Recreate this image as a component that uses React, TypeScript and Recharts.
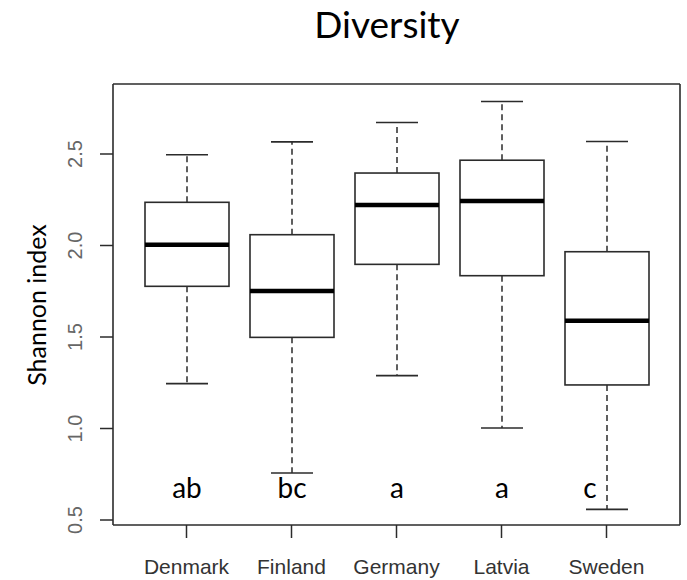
import React from 'react'
import { ComposedChart, Bar, XAxis, YAxis } from 'recharts'

const countries = ['Denmark', 'Finland', 'Germany', 'Latvia', 'Sweden']
const whiskerLow = [1.245, 0.757, 1.289, 1.003, 0.558]
const quartile1 = [1.777, 1.498, 1.897, 1.835, 1.238]
const medians = [2.004, 1.751, 2.221, 2.243, 1.589]
const quartile3 = [2.236, 2.059, 2.396, 2.466, 1.966]
const whiskerHigh = [2.496, 2.566, 2.672, 2.787, 2.568]
const groupLetters = ['ab', 'bc', 'a', 'a', 'c']

const yTicks = [0.5, 1.0, 1.5, 2.0, 2.5]
const Y_MIN = 0.4727
const Y_MAX = 2.8825
const LETTER_Y = 0.62

// small nudge for letters that sit off-centre in the original
const letterDx: Record<string, number> = { Sweden: -17 }

const data = countries.map((name, i) => ({
  name,
  lo: whiskerLow[i],
  q1: quartile1[i],
  med: medians[i],
  q3: quartile3[i],
  hi: whiskerHigh[i],
  letter: groupLetters[i],
}))

const INK = '#2b2b2b'
const LABEL_FONT = 'Lato, "Noto Sans", sans-serif'
const AXIS_FONT = '"Liberation Sans", Arial, sans-serif'
const frameLine = { stroke: INK, strokeWidth: 1.6 }

function BoxShape(props: any) {
  const { x, y, width, height, payload } = props
  const { lo, q1, med, q3, hi, letter, name } = payload
  const k = height / (hi - lo)
  const py = (v: number) => y + (hi - v) * k
  const cx = x + width / 2
  const cap = width / 4
  return (
    <g>
      <line x1={cx} x2={cx} y1={py(q3)} y2={py(hi)} stroke={INK} strokeWidth={1.5} strokeDasharray="6 4" />
      <line x1={cx} x2={cx} y1={py(q1)} y2={py(lo)} stroke={INK} strokeWidth={1.5} strokeDasharray="6 4" />
      <line x1={cx - cap} x2={cx + cap} y1={py(hi)} y2={py(hi)} stroke={INK} strokeWidth={1.6} />
      <line x1={cx - cap} x2={cx + cap} y1={py(lo)} y2={py(lo)} stroke={INK} strokeWidth={1.6} />
      <rect x={x} y={py(q3)} width={width} height={py(q1) - py(q3)} fill="#fff" stroke={INK} strokeWidth={1.6} />
      <line x1={x} x2={x + width} y1={py(med)} y2={py(med)} stroke="#000" strokeWidth={4.5} />
      <text
        x={cx + (letterDx[name] ?? 0)}
        y={py(LETTER_Y)}
        textAnchor="middle"
        fontFamily={LABEL_FONT}
        fontSize={28}
        fill="#000"
      >
        {letter}
      </text>
    </g>
  )
}

const YTick = (props: any) => {
  const { y, payload } = props
  return (
    <text
      x={82}
      y={y}
      transform={`rotate(-90, 82, ${y})`}
      textAnchor="middle"
      fontFamily={AXIS_FONT}
      fontSize={20}
      fill="#666"
    >
      {payload.value.toFixed(1)}
    </text>
  )
}

const XTick = (props: any) => {
  const { x, payload } = props
  return (
    <text x={x} y={574} textAnchor="middle" fontFamily={AXIS_FONT} fontSize={21} fill="#333">
      {payload.value}
    </text>
  )
}

export default function App() {
  return (
    <div style={{ position: 'relative', width: 687, height: 580, background: '#fff' }}>
      <style>{'body{margin:0}'}</style>
      <ComposedChart
        width={687}
        height={580}
        data={data}
        margin={{ top: 83, right: 6, left: 0, bottom: 0 }}
      >
        <XAxis
          dataKey="name"
          type="category"
          height={55}
          padding={{ left: 21, right: 21 }}
          axisLine={frameLine}
          tickSize={13}
          tickLine={{ stroke: INK, strokeWidth: 1.5 }}
          tick={<XTick />}
          interval={0}
        />
        <XAxis
          xAxisId="top"
          orientation="top"
          dataKey="name"
          type="category"
          height={1}
          axisLine={frameLine}
          tick={false}
          tickLine={false}
        />
        <YAxis
          type="number"
          width={113}
          domain={[Y_MIN, Y_MAX]}
          allowDataOverflow
          ticks={yTicks}
          axisLine={frameLine}
          tickSize={13}
          tickLine={{ stroke: INK, strokeWidth: 1.5 }}
          tick={<YTick />}
        />
        <YAxis
          yAxisId="right"
          orientation="right"
          type="number"
          width={1}
          domain={[Y_MIN, Y_MAX]}
          allowDataOverflow
          axisLine={frameLine}
          tick={false}
          tickLine={false}
        />
        <Bar
          dataKey={(d: any) => [d.lo, d.hi]}
          barSize={84}
          shape={<BoxShape />}
          isAnimationActive={false}
        />
      </ComposedChart>
      <svg width={687} height={580} style={{ position: 'absolute', left: 0, top: 0, pointerEvents: 'none' }}>
        <text x={387} y={38} textAnchor="middle" fontFamily={LABEL_FONT} fontSize={37} fill="#000">
          Diversity
        </text>
        <text
          x={46}
          y={305}
          transform="rotate(-90, 46, 305)"
          textAnchor="middle"
          fontFamily={LABEL_FONT}
          fontSize={25}
          fill="#000"
        >
          Shannon index
        </text>
      </svg>
    </div>
  )
}
